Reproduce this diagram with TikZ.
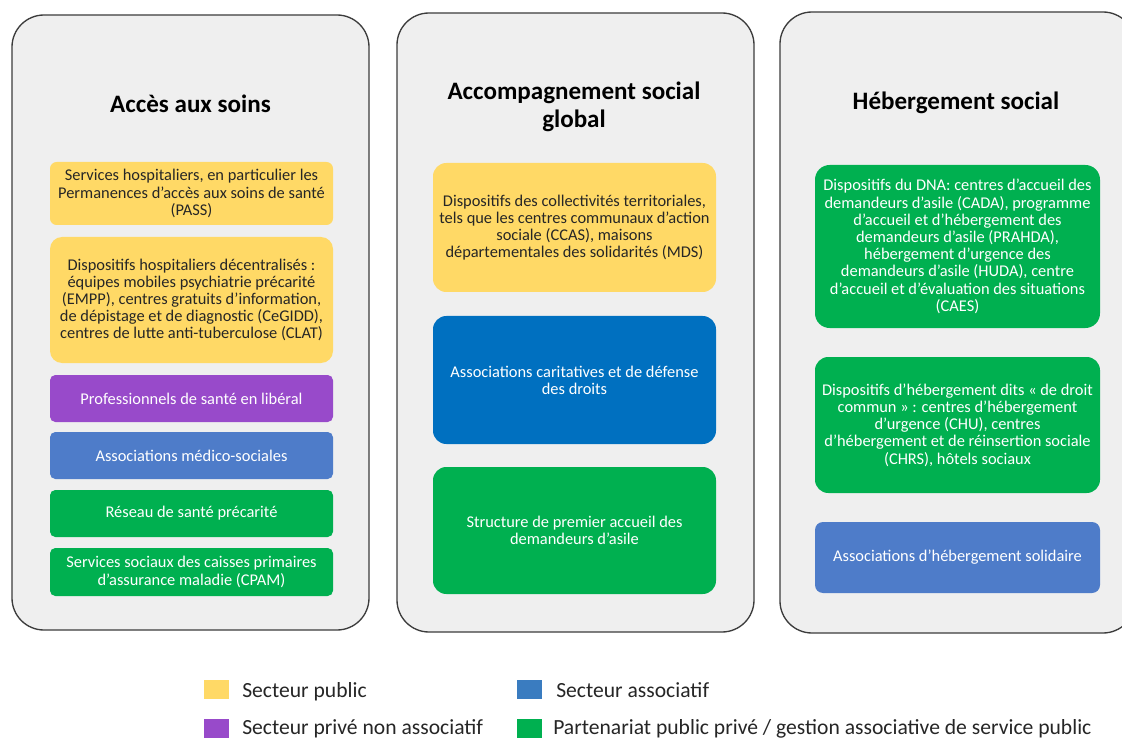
\documentclass[tikz,border=0pt]{standalone}
\usepackage{fontspec}
\setmainfont{Carlito}
\definecolor{panelfill}{HTML}{EFEFEF}
\definecolor{panelborder}{HTML}{3C3C3C}
\definecolor{cyellow}{HTML}{FFD966}
\definecolor{cpurple}{HTML}{984ACA}
\definecolor{cblue}{HTML}{4E7CC9}
\definecolor{cdblue}{HTML}{0070C0}
\definecolor{cgreen}{HTML}{00B050}
\definecolor{clblue}{HTML}{3A7CC0}
\definecolor{ctext}{HTML}{262626}
\newcommand{\cardfont}{\fontsize{12.3}{12.9}\selectfont}
\newcommand{\titlefont}{\fontsize{18.8}{21}\selectfont\bfseries}
\newcommand{\legfont}{\fontsize{16.2}{18}\selectfont}
\begin{document}
\begin{tikzpicture}[x=0.75pt,y=-0.75pt,
  panel/.style={draw=panelborder, fill=panelfill, line width=1pt, rounded corners=24pt, inner sep=0pt},
  card/.style={rectangle, inner sep=0pt, align=center, font=\cardfont, text=white},
  ycard/.style={card, fill=cyellow, text=ctext},
  title/.style={font=\titlefont, align=center, anchor=base, text=black},
  swatch/.style={rectangle, inner sep=0pt, minimum width=18.5pt, minimum height=14.5pt},
  legtext/.style={font=\legfont, anchor=base west, inner sep=0pt, text=ctext}
]
\useasboundingbox (0,0) rectangle (1122,738);
\fill[white] (0,0) rectangle (1122,738);

% panels
\node[panel, minimum width=267.75pt, minimum height=461.25pt] (p1) at (190.5,322.5) {};
\node[panel, minimum width=267.75pt, minimum height=464.25pt] (p2) at (575.5,322.5) {};
\node[panel, minimum width=266.25pt, minimum height=465.75pt] (p3) at (957.5,322.5) {};

% titles
\node[title] (t1) at (190.5,112.5) {Accès aux soins};
\node[title] (t2) at (574,128) {Accompagnement social\\global};
\node[title] (t3) at (956,110) {Hébergement social};

% column 1
\node[ycard, minimum width=212.25pt, minimum height=47.25pt, rounded corners=5pt] (c1a) at (191.5,193.5)
  {Services hospitaliers, en particulier les\\Permanences d’accès aux soins de santé\\(PASS)};
\node[ycard, minimum width=212.25pt, minimum height=94.5pt, rounded corners=9pt] (c1b) at (191.5,300)
  {Dispositifs hospitaliers décentralisés :\\équipes mobiles psychiatrie précarité\\(EMPP), centres gratuits d’information,\\de dépistage et de diagnostic (CeGIDD),\\centres de lutte anti-tuberculose (CLAT)};
\node[card, fill=cpurple, minimum width=212.25pt, minimum height=35.25pt, rounded corners=4pt] (c1c) at (191.5,398.5)
  {Professionnels de santé en libéral};
\node[card, fill=cblue, minimum width=212.25pt, minimum height=35.25pt, rounded corners=4pt] (c1d) at (191.5,455.5)
  {Associations médico-sociales};
\node[card, fill=cgreen, minimum width=212.25pt, minimum height=35.25pt, rounded corners=4pt] (c1e) at (191.5,513.5)
  {Réseau de santé précarité};
\node[card, fill=cgreen, minimum width=212.25pt, minimum height=36pt, rounded corners=4pt] (c1f) at (191.5,572)
  {Services sociaux des caisses primaires\\d’assurance maladie (CPAM)};

% column 2
\node[ycard, minimum width=212.25pt, minimum height=96.75pt, rounded corners=10pt] (c2a) at (574.5,227.5)
  {Dispositifs des collectivités territoriales,\\tels que les centres communaux d’action\\sociale (CCAS), maisons\\départementales des solidarités (MDS)};
\node[card, fill=cdblue, minimum width=212.25pt, minimum height=96pt, rounded corners=10pt] (c2b) at (574.5,380)
  {Associations caritatives et de défense\\des droits};
\node[card, fill=cgreen, minimum width=212.25pt, minimum height=95.25pt, rounded corners=10pt] (c2c) at (574.5,530.5)
  {Structure de premier accueil des\\demandeurs d’asile};

% column 3
\node[card, fill=cgreen, minimum width=213.75pt, minimum height=122.25pt, rounded corners=11pt] (c3a) at (957.5,246.5)
  {Dispositifs du DNA: centres d’accueil des\\demandeurs d’asile (CADA), programme\\d’accueil et d’hébergement des\\demandeurs d’asile (PRAHDA),\\hébergement d’urgence des\\demandeurs d’asile (HUDA), centre\\d’accueil et d’évaluation des situations\\(CAES)};
\node[card, fill=cgreen, minimum width=213.75pt, minimum height=102pt, rounded corners=10pt] (c3b) at (957.5,425)
  {Dispositifs d’hébergement dits « de droit\\commun » : centres d’hébergement\\d’urgence (CHU), centres\\d’hébergement et de réinsertion sociale\\(CHRS), hôtels sociaux};
\node[card, fill=cblue, minimum width=213.75pt, minimum height=53.25pt, rounded corners=6pt] (c3c) at (957.5,557.5)
  {Associations d’hébergement solidaire};

% legend
\node[swatch, fill=cyellow] (s1) at (216.5,689.5) {};
\node[legtext] (l1) at (242,697) {Secteur public};
\node[swatch, fill=clblue] (s2) at (529.5,689.5) {};
\node[legtext] (l2) at (556,697) {Secteur associatif};
\node[swatch, fill=cpurple] (s3) at (216.5,728.5) {};
\node[legtext] (l3) at (242,734.5) {Secteur privé non associatif};
\node[swatch, fill=cgreen] (s4) at (529.5,728.5) {};
\node[legtext] (l4) at (553,734.5) {Partenariat public privé / gestion associative de service public};
\end{tikzpicture}
\end{document}
